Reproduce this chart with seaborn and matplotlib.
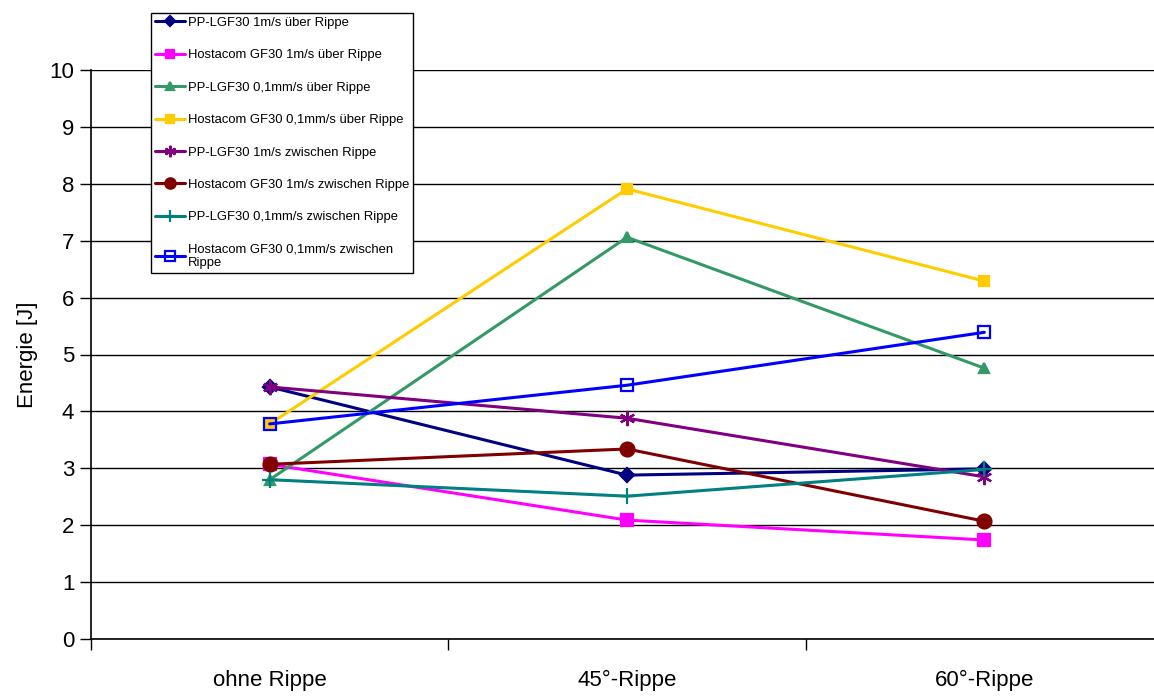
import matplotlib
matplotlib.use('Agg')
import matplotlib.pyplot as plt
import seaborn as sns
from matplotlib.ticker import FixedLocator

# ── Daten ─────────────────────────────────────────────────────
kategorien = ['ohne Rippe', '45°-Rippe', '60°-Rippe']

pp_1ms_ueber = [4.43, 2.88, 2.99]
hc_1ms_ueber = [3.07, 2.09, 1.74]
pp_01_ueber = [2.80, 7.06, 4.76]
hc_01_ueber = [3.78, 7.91, 6.29]
pp_1ms_zw = [4.43, 3.88, 2.85]
hc_1ms_zw = [3.07, 3.34, 2.07]
pp_01_zw = [2.80, 2.51, 2.98]
hc_01_zw = [3.78, 4.46, 5.39]

namen = ['PP-LGF30 1m/s über Rippe',
         'Hostacom GF30 1m/s über Rippe',
         'PP-LGF30 0,1mm/s über Rippe',
         'Hostacom GF30 0,1mm/s über Rippe',
         'PP-LGF30 1m/s zwischen Rippe',
         'Hostacom GF30 1m/s zwischen Rippe',
         'PP-LGF30 0,1mm/s zwischen Rippe',
         'Hostacom GF30 0,1mm/s zwischen\nRippe']
werte = [pp_1ms_ueber, hc_1ms_ueber, pp_01_ueber, hc_01_ueber,
         pp_1ms_zw, hc_1ms_zw, pp_01_zw, hc_01_zw]
farben = ['#000080', '#FF00FF', '#339966', '#FFCC00',
          '#800080', '#800000', '#008080', '#0000FF']
marker = ['D', 's', '^', 's', (6, 2, 0), 'o', '+', 's']
msize = [7, 8, 7, 7, 11, 10, 12, 9]

# ── Stil ──────────────────────────────────────────────────────
sns.set_style('white', {'text.color': 'black', 'axes.labelcolor': 'black',
                        'xtick.color': 'black', 'ytick.color': 'black'})
plt.rcParams['font.family'] = ['Liberation Sans', 'DejaVu Sans']

fig = plt.figure(figsize=(11.54, 6.96), dpi=100)
W, H = 1154, 696
ax = fig.add_axes([91 / W, (H - 639) / H, (1163 - 91) / W, (639 - 70) / H])

for name, y, c, m, s in zip(namen, werte, farben, marker, msize):
    face = 'none' if name.startswith('Hostacom GF30 0,1mm/s zwischen') else c
    sns.lineplot(x=kategorien, y=y, color=c, marker=m, markersize=s,
                 markerfacecolor=face, markeredgecolor=c, markeredgewidth=1.6,
                 linewidth=2.2, label=name, sort=False, ax=ax)

ax.set_xlim(-0.5, 2.5)
ax.set_ylim(0, 10)
ax.set_yticks(range(0, 11))
ax.yaxis.grid(True, color='black', linewidth=1)
ax.set_axisbelow(True)

# Kategorie-Beschriftung mittig, Teilstriche an den Grenzen
ax.set_xticks([0, 1, 2])
ax.set_xticklabels(kategorien, fontsize=16)
ax.xaxis.set_minor_locator(FixedLocator([-0.5, 0.5, 1.5, 2.5]))
ax.tick_params(axis='x', which='major', bottom=True, length=0, pad=22)
ax.tick_params(axis='x', which='minor', bottom=True, length=8, width=1,
               color='black', direction='out')
ax.tick_params(axis='y', left=True, length=8, width=1, color='black',
               direction='out', labelsize=16, pad=4)

for sp in ['top', 'right']:
    ax.spines[sp].set_visible(False)
for sp in ['left', 'bottom']:
    ax.spines[sp].set_color('black')
    ax.spines[sp].set_linewidth(1.2)

ax.set_xlabel('')
ax.set_ylabel('Energie [J]', fontsize=16, labelpad=8)

leg = ax.legend(loc='upper left', bbox_to_anchor=(151 / W, 1 - 13 / H),
                bbox_transform=fig.transFigure, borderaxespad=0,
                fontsize=9.4, labelspacing=1.55, handlelength=2.3,
                handletextpad=0.2, borderpad=0.3, fancybox=False,
                framealpha=1, edgecolor='black', markerscale=0.75)
leg.get_frame().set_linewidth(1)

plt.savefig('out.png', dpi=100)
